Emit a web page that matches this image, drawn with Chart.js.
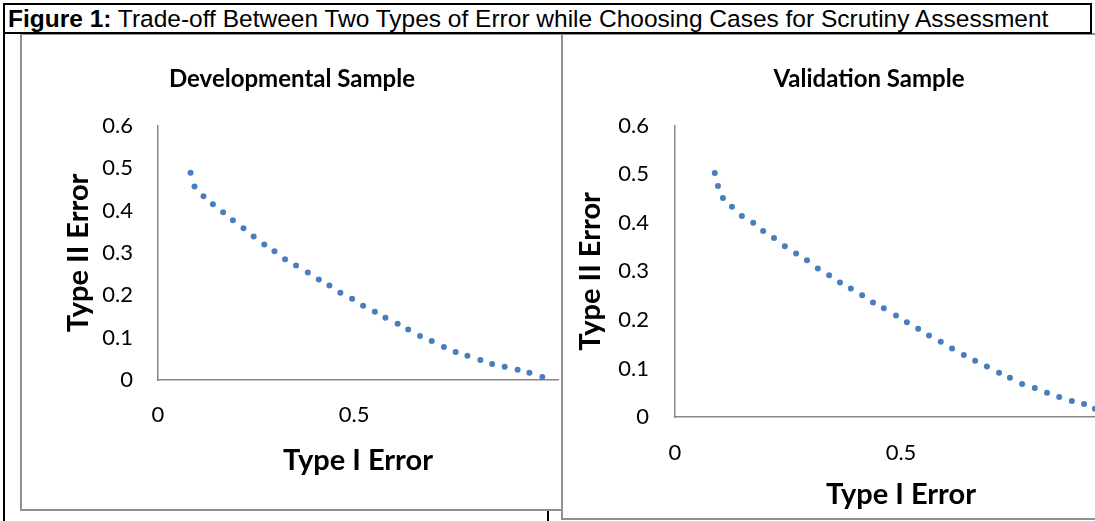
<!DOCTYPE html>
<html>
<head>
<meta charset="utf-8">
<script src="https://cdn.jsdelivr.net/npm/chart.js@4.4.0/dist/chart.umd.min.js"></script>
<style>
  html, body { margin: 0; padding: 0; background: #fff; overflow: hidden; width: 1095px; height: 521px; }
  .caption {
    position: absolute; left: 3px; top: 3px; width: 1089px; height: 31px;
    box-sizing: border-box; border: 2px solid #000; background: #fff; z-index: 3;
    font-family: "Liberation Sans", Arial, sans-serif; font-size: 24.5px; line-height: 27px;
    padding-left: 3px; white-space: nowrap; color: #000; overflow: hidden;
  }
  .rule { position: absolute; background: #000; }
  .panel {
    position: absolute; border: 2px solid #909090; background: #fff; overflow: hidden;
  }
  .panel canvas { position: absolute; left: 0; top: 0; }
</style>
</head>
<body>
<div class="caption"><b>Figure 1:</b> Trade-off Between Two Types of Error while Choosing Cases for Scrutiny Assessment</div>
<div class="rule" style="left:3px;top:33px;width:2px;height:488px;"></div>
<div class="rule" style="left:547px;top:505px;width:2px;height:16px;"></div>

<div class="panel" id="devPanel" style="left:20px;top:33px;width:540px;height:474px;z-index:1;">
  <canvas id="devChart" width="540" height="474"></canvas>
</div>
<div class="panel" id="valPanel" style="left:561px;top:33px;width:610px;height:483px;z-index:2;">
  <canvas id="valChart" width="610" height="483"></canvas>
</div>

<script>
// Developmental sample (Type I error, Type II error)
const devX = [0.083, 0.093, 0.116, 0.140, 0.166, 0.191, 0.218, 0.244, 0.271, 0.297, 0.324,
  0.352, 0.382, 0.410, 0.437, 0.465, 0.495, 0.523, 0.553, 0.580, 0.611, 0.638, 0.668,
  0.698, 0.729, 0.759, 0.789, 0.822, 0.852, 0.884, 0.917, 0.947, 0.980];
const devY = [0.489, 0.457, 0.434, 0.415, 0.396, 0.377, 0.358, 0.339, 0.320, 0.304, 0.285,
  0.270, 0.254, 0.237, 0.223, 0.206, 0.192, 0.175, 0.161, 0.147, 0.133, 0.119, 0.104,
  0.092, 0.078, 0.066, 0.057, 0.047, 0.038, 0.031, 0.024, 0.017, 0.007];

// Validation sample
const valX = [0.088, 0.095, 0.106, 0.126, 0.148, 0.173, 0.195, 0.219, 0.243, 0.268, 0.292,
  0.316, 0.341, 0.365, 0.389, 0.414, 0.438, 0.462, 0.489, 0.513, 0.538, 0.562, 0.588,
  0.613, 0.639, 0.664, 0.690, 0.717, 0.741, 0.768, 0.796, 0.823, 0.850, 0.878, 0.905, 0.929];
const valY = [0.503, 0.476, 0.451, 0.433, 0.414, 0.400, 0.383, 0.369, 0.352, 0.337, 0.323,
  0.306, 0.292, 0.277, 0.265, 0.251, 0.236, 0.224, 0.209, 0.195, 0.182, 0.168, 0.155,
  0.141, 0.128, 0.116, 0.104, 0.091, 0.081, 0.068, 0.060, 0.050, 0.041, 0.033, 0.027, 0.017];

const yTicks = [0, 0.1, 0.2, 0.3, 0.4, 0.5, 0.6];
const xTicks = [0, 0.5, 1];

const FONT = 'Lato, "Open Sans", sans-serif';
const DOT = '#4A7EBB';
const AXIS = '#888888';

function makeChart(id, xs, ys, opt) {
  const points = xs.map((x, i) => ({ x, y: ys[i] }));
  return new Chart(document.getElementById(id), {
    type: 'scatter',
    data: {
      datasets: [{
        data: points,
        backgroundColor: DOT,
        borderWidth: 0,
        pointRadius: 3,
        showLine: false
      }]
    },
    options: {
      responsive: false,
      animation: false,
      devicePixelRatio: 1,
      layout: { padding: opt.pad },
      plugins: {
        legend: { display: false },
        tooltip: { enabled: false },
        title: {
          display: true,
          text: opt.title,
          color: '#000',
          font: { family: FONT, size: 24, weight: 'bold' },
          padding: { top: opt.titleTop, bottom: opt.titleBottom }
        }
      },
      scales: {
        x: {
          type: 'linear',
          min: 0,
          max: opt.xMax,
          afterBuildTicks: (s) => { s.ticks = xTicks.filter(v => v <= opt.xLast).map(v => ({ value: v })); },
          afterFit: (s) => { s.height = opt.xHeight; },
          grid: { display: false, drawTicks: false },
          border: { color: AXIS, width: 1.5 },
          ticks: { color: '#000', padding: opt.xTickPad, font: { family: FONT, size: 22 } },
          title: {
            display: true, text: 'Type I Error', color: '#000',
            font: { family: FONT, size: 29, weight: 'bold' },
            padding: { top: 0, bottom: opt.xTitleBottom }
          }
        },
        y: {
          type: 'linear',
          min: 0,
          max: 0.6,
          afterBuildTicks: (s) => { s.ticks = yTicks.map(v => ({ value: v })); },
          afterFit: (s) => { s.width = opt.yWidth; },
          grid: { display: false, drawTicks: false },
          border: { color: AXIS, width: 1.5 },
          ticks: { color: '#000', padding: opt.yTickPad, font: { family: FONT, size: 22 } },
          title: {
            display: true, text: 'Type II Error', color: '#000',
            font: { family: FONT, size: 29, weight: 'bold' },
            padding: { top: opt.yTitleTop, bottom: 0 }
          }
        }
      }
    }
  });
}

// left panel: plot runs under the neighbouring panel's edge, so only 0 and 0.5 show
makeChart('devChart', devX, devY, {
  title: 'Developmental Sample',
  pad: { left: 0, right: 0, top: 0, bottom: 0 },
  xMax: 1.02, xLast: 0.5,
  titleTop: 30, titleBottom: 32,
  xHeight: 129, xTickPad: 22, xTitleBottom: 31,
  yWidth: 136, yTickPad: 25, yTitleTop: 39
});

// right panel: cropped by the page edge, x reaches 1 off-screen
makeChart('valChart', valX, valY, {
  title: 'Validation Sample',
  pad: { left: 48, right: 46, top: 0, bottom: 0 },
  xMax: 1, xLast: 1,
  titleTop: 30, titleBottom: 32,
  xHeight: 101, xTickPad: 23, xTitleBottom: 6,
  yWidth: 64, yTickPad: 26, yTitleTop: -38
});
</script>
</body>
</html>
